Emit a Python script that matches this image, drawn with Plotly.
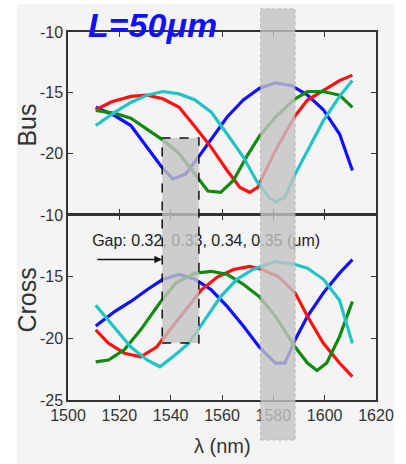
import plotly.graph_objects as go

# ---- data ----
bus_blue_x = [1510.8, 1518.3, 1524.5, 1530.8, 1536.4, 1540.8, 1545.8, 1550.8, 1555.8, 1562.0, 1568.3, 1574.5, 1580.8, 1587.0, 1593.3, 1599.5, 1605.8, 1610.8]
bus_blue_y = [-16.2, -16.9, -17.7, -19.5, -21.1, -22.1, -21.7, -20.3, -18.8, -17.0, -15.6, -14.65, -14.2, -14.4, -15.2, -16.4, -18.4, -21.4]

bus_red_x = [1510.8, 1517.0, 1524.5, 1530.8, 1537.0, 1543.3, 1549.5, 1555.8, 1562.0, 1567.0, 1570.8, 1573.9, 1580.8, 1588.5, 1593.3, 1599.5, 1605.8, 1610.8]
bus_red_y = [-16.4, -15.75, -15.3, -15.2, -15.5, -16.2, -17.8, -19.5, -21.4, -22.8, -23.2, -22.8, -19.75, -16.9, -15.6, -14.8, -14.0, -13.55]

bus_green_x = [1510.8, 1518.3, 1524.5, 1530.8, 1537.0, 1543.3, 1549.5, 1554.5, 1559.5, 1564.5, 1569.5, 1574.5, 1580.8, 1588.5, 1593.3, 1599.5, 1605.8, 1610.8]
bus_green_y = [-16.45, -16.7, -17.1, -18.0, -18.9, -20.0, -21.7, -23.1, -23.2, -22.2, -20.3, -18.6, -17.0, -15.5, -14.9, -14.9, -15.2, -16.2]

bus_cyan_x = [1510.8, 1518.3, 1524.5, 1530.8, 1537.0, 1543.3, 1549.5, 1555.8, 1562.0, 1568.3, 1573.3, 1578.3, 1580.8, 1584.5, 1588.5, 1593.3, 1599.5, 1605.8, 1610.8]
bus_cyan_y = [-17.7, -16.6, -15.8, -15.2, -14.9, -15.1, -15.6, -16.6, -18.4, -20.3, -22.2, -23.6, -24.0, -23.6, -21.7, -19.75, -17.3, -15.3, -14.0]

cross_blue_x = [1510.8, 1518.3, 1524.5, 1530.8, 1537.0, 1543.3, 1549.5, 1555.8, 1562.0, 1568.3, 1574.5, 1580.8, 1584.5, 1588.5, 1593.3, 1599.5, 1605.8, 1610.8]
cross_blue_y = [-19.0, -17.8, -17.0, -16.05, -15.2, -14.8, -15.2, -16.05, -17.4, -19.0, -20.7, -22.0, -22.0, -20.1, -18.2, -16.3, -14.7, -13.6]

cross_red_x = [1510.8, 1515.8, 1522.0, 1528.3, 1534.5, 1540.8, 1547.0, 1552.0, 1558.3, 1564.5, 1570.8, 1575.8, 1582.0, 1588.5, 1593.3, 1599.5, 1605.8, 1610.8]
cross_red_y = [-19.3, -20.4, -21.2, -21.5, -20.7, -19.0, -17.4, -16.05, -15.0, -14.4, -14.15, -14.4, -15.0, -16.3, -18.2, -20.4, -22.0, -23.1]

cross_green_x = [1510.8, 1515.8, 1522.0, 1528.3, 1535.8, 1542.0, 1549.5, 1555.8, 1562.0, 1568.3, 1574.5, 1580.8, 1588.5, 1593.3, 1597.0, 1600.8, 1605.8, 1610.8]
cross_green_y = [-21.9, -21.75, -20.9, -19.3, -17.1, -15.5, -14.7, -14.55, -14.8, -15.6, -16.6, -18.2, -20.7, -22.0, -22.6, -22.0, -19.85, -17.0]

cross_cyan_x = [1510.8, 1517.0, 1524.5, 1530.8, 1535.8, 1540.8, 1547.0, 1553.3, 1559.5, 1565.8, 1572.0, 1580.8, 1588.5, 1593.3, 1599.5, 1605.8, 1610.8]
cross_cyan_y = [-17.3, -18.8, -20.7, -21.75, -22.3, -21.5, -20.4, -18.5, -16.6, -15.2, -14.4, -13.75, -14.0, -14.3, -15.2, -16.9, -20.4]

x_ticks = [1500, 1520, 1540, 1560, 1580, 1600, 1620]
bus_ticks = [-10, -15, -20]
cross_ticks = [-10, -15, -20, -25]

colors = {"blue": "#1010ff", "red": "#ff1010", "green": "#108a10", "cyan": "#20c4c4"}

fig = go.Figure()

def add(x, y, c, xa, ya):
    fig.add_trace(go.Scatter(x=x, y=y, mode="lines", line=dict(color=colors[c], width=3.2),
                             xaxis=xa, yaxis=ya, showlegend=False, hoverinfo="skip"))

add(bus_blue_x, bus_blue_y, "blue", "x2", "y2")
add(bus_red_x, bus_red_y, "red", "x2", "y2")
add(bus_green_x, bus_green_y, "green", "x2", "y2")
add(bus_cyan_x, bus_cyan_y, "cyan", "x2", "y2")
add(cross_blue_x, cross_blue_y, "blue", "x", "y")
add(cross_red_x, cross_red_y, "red", "x", "y")
add(cross_green_x, cross_green_y, "green", "x", "y")
add(cross_cyan_x, cross_cyan_y, "cyan", "x", "y")

# Gap text (a trace, so the shaded boxes sit over it)
fig.add_trace(go.Scatter(x=[1509.4], y=[-12.2], mode="text", text=["Gap: 0.32, 0.33, 0.34, 0.35 (μm)"],
                         textposition="middle right", textfont=dict(size=16, color="#222", family="Liberation Sans"),
                         xaxis="x", yaxis="y", showlegend=False, hoverinfo="skip", cliponaxis=False))

axis_common = dict(showline=True, linecolor="#333", linewidth=1.5, mirror="ticks", ticks="inside",
                   ticklen=5, tickcolor="#333", showgrid=False, zeroline=False,
                   tickfont=dict(size=16, color="#333", family="Liberation Sans"))

fig.update_layout(
    width=406, height=464,
    margin=dict(l=68, r=18, t=32, b=64),
    paper_bgcolor="white", plot_bgcolor="rgba(0,0,0,0)",
    xaxis=dict(range=[1500, 1620], tickvals=x_ticks, anchor="y", domain=[0, 1], **axis_common),
    xaxis2=dict(range=[1500, 1620], tickvals=x_ticks, anchor="y2", showticklabels=False, domain=[0, 1], **axis_common),
    yaxis=dict(range=[-25, -10], tickvals=cross_ticks, ticktext=[str(v) for v in cross_ticks],
               domain=[0, 0.502], anchor="x", **axis_common),
    yaxis2=dict(range=[-25, -10], tickvals=bus_ticks, ticktext=[str(v) for v in bus_ticks],
                domain=[0.505, 1], anchor="x2", **axis_common),
)

shapes = [
    # light gray page background
    dict(type="rect", xref="paper", yref="paper", x0=-0.166, x1=1.06, y0=-0.18, y1=1.076,
         fillcolor="#f4f4f4", line=dict(width=0), layer="below"),
    # tall shaded band
    dict(type="rect", xref="x", yref="paper", x0=1575, x1=1588.5, y0=-0.109, y1=1.063,
         fillcolor="rgba(195,195,195,0.8)", line=dict(color="rgba(160,160,160,0.6)", width=1, dash="dot"),
         layer="above"),
    # dashed box
    dict(type="rect", xref="x", yref="paper", x0=1536.7, x1=1551, y0=0.155, y1=0.712,
         fillcolor="rgba(195,195,195,0.8)", line=dict(color="#111", width=1.5, dash="dash"),
         layer="above"),
]
fig.update_layout(shapes=shapes)

annotations = [
    dict(text="<b><i>L=50μm</i></b>", xref="paper", yref="paper", x=(156 - 68) / 320, y=(400 - 25) / 368,
         showarrow=False, font=dict(size=34, color="#1010ff", family="Liberation Sans"),
         xanchor="center", yanchor="middle"),
    dict(text="Bus", xref="paper", yref="paper", x=(25 - 68) / 320, y=(400 - 125) / 368, textangle=-90,
         showarrow=False, font=dict(size=25, color="#333", family="Liberation Sans"),
         xanchor="center", yanchor="middle"),
    dict(text="Cross", xref="paper", yref="paper", x=(25 - 68) / 320, y=(400 - 300) / 368, textangle=-90,
         showarrow=False, font=dict(size=25, color="#333", family="Liberation Sans"),
         xanchor="center", yanchor="middle"),
    dict(text="λ (nm)", xref="paper", yref="paper", x=(228 - 68) / 320, y=(400 - 446) / 368,
         showarrow=False, font=dict(size=20, color="#333", family="Liberation Sans"),
         xanchor="center", yanchor="middle"),
    dict(text="", xref="x", yref="y", x=1536.6, y=-13.6, ax=1510.9, ay=-13.6, axref="x", ayref="y",
         showarrow=True, arrowhead=2, arrowsize=1, arrowwidth=1.5, arrowcolor="#111"),
]
fig.update_layout(annotations=annotations)

fig.write_html("out.html", config={"displayModeBar": False},
               post_script="document.body.style.margin='0';document.body.style.overflow='hidden';")
